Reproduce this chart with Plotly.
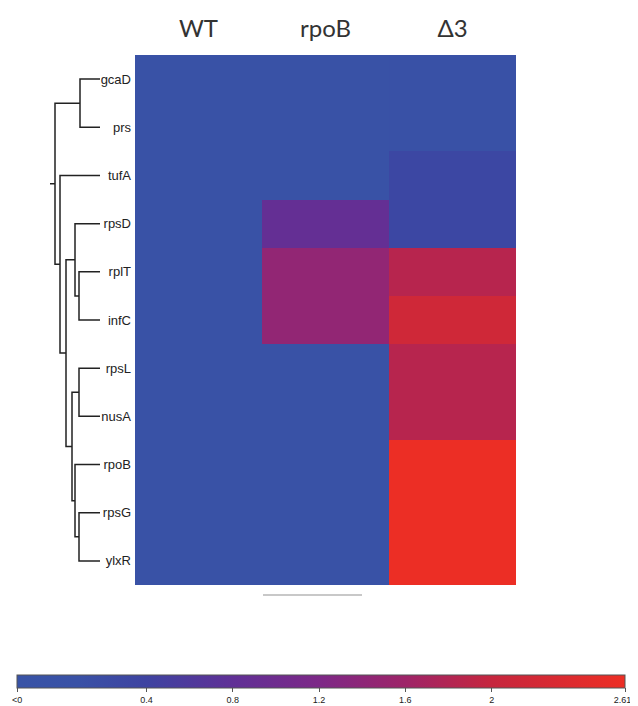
import plotly.graph_objects as go

genes = ["gcaD", "prs", "tufA", "rpsD", "rplT", "infC", "rpsL", "nusA", "rpoB", "rpsG", "ylxR"]
conditions = ["WT", "rpoB", "Δ3"]
wt_values = [0.0, 0.0, 0.0, 0.0, 0.0, 0.0, 0.0, 0.0, 0.0, 0.0, 0.0]
rpob_values = [0.0, 0.0, 0.0, 0.85, 1.45, 1.45, 0.0, 0.0, 0.0, 0.0, 0.0]
d3_values = [0.05, 0.05, 0.3, 0.3, 1.85, 2.15, 1.85, 1.85, 2.6, 2.6, 2.6]

cbar_tickvals = [-0.2, 0.4, 0.8, 1.2, 1.6, 2.0, 2.618]
cbar_ticktext = ["<0", "0.4", "0.8", "1.2", "1.6", "2", "2.618"]

# hierarchical clustering linkage (scipy style): child a, child b, height
linkage = [
    [0, 1, 20],
    [4, 5, 21],
    [6, 7, 21],
    [9, 10, 21],
    [3, 12, 25],
    [8, 14, 25],
    [13, 16, 28],
    [15, 17, 34],
    [2, 18, 40],
    [11, 19, 45],
]
root_stub = 5

# page has an 8px body margin; figure occupies the rest of the window
OFF = 8
W, H = 638 - OFF, 706 - OFF
def px(x):
    return (x - OFF) / W
def py(y):
    return 1 - (y - OFF) / H

z = [[wt_values[i], rpob_values[i], d3_values[i]] for i in range(len(genes))]

colorscale = [
    [0.0, "rgb(56,83,166)"],
    [0.1, "rgb(57,81,166)"],
    [0.213, "rgb(62,67,161)"],
    [0.355, "rgb(96,48,150)"],
    [0.497, "rgb(125,40,135)"],
    [0.639, "rgb(158,36,104)"],
    [0.781, "rgb(198,38,62)"],
    [1.0, "rgb(237,46,36)"],
]

fig = go.Figure()
fig.add_trace(go.Heatmap(
    z=z, x=conditions, y=list(range(len(genes))),
    colorscale=colorscale, zmin=-0.2, zmax=2.618,
    xgap=0, ygap=0,
    colorbar=dict(
        orientation="h", x=px(321), xanchor="center",
        y=py(675), yanchor="top",
        len=608, lenmode="pixels", thickness=13,
        xpad=0, ypad=0,
        outlinecolor="#555", outlinewidth=1,
        tickvals=cbar_tickvals, ticktext=cbar_ticktext,
        ticks="outside", ticklen=4, tickcolor="#555",
        tickfont=dict(size=9, color="#222", family="Arial"),
    ),
    hoverinfo="skip",
))

# dendrogram from linkage
n = len(genes)
pos = {i: (0.0, float(i)) for i in range(n)}
xs, ys = [], []
for k, (a, b, h) in enumerate(linkage):
    ha, ya = pos[a]
    hb, yb = pos[b]
    xs += [ha, h, h, hb, None]
    ys += [ya, ya, yb, yb, None]
    pos[n + k] = (h, (ya + yb) / 2)
rh, ry = pos[n + len(linkage) - 1]
xs += [rh, rh + root_stub, None]
ys += [ry, ry, None]

fig.add_trace(go.Scatter(
    x=xs, y=ys, mode="lines", xaxis="x2", yaxis="y",
    line=dict(color="#222", width=1.5), hoverinfo="skip", showlegend=False,
))

fig.update_layout(
    width=W, height=H,
    margin=dict(l=0, r=0, t=0, b=0),
    paper_bgcolor="white", plot_bgcolor="white",
    xaxis=dict(domain=[px(135), px(516)], side="top", ticks="",
               showgrid=False, zeroline=False, showline=False,
               tickfont=dict(size=24, family="Lato", color="#333"),
               ticklabelstandoff=12),
    yaxis=dict(domain=[py(585), py(55)], range=[n - 0.5, -0.5],
               tickvals=list(range(n)), ticktext=genes, ticks="",
               showgrid=False, zeroline=False, showline=False,
               tickfont=dict(size=13, family="Arial", color="#222"),
               ticklabelstandoff=3),
    xaxis2=dict(domain=[px(45), px(100)], range=[55, 0], anchor="y",
                visible=False, showgrid=False, zeroline=False),
    shapes=[dict(type="line", xref="paper", yref="paper",
                 x0=px(263), x1=px(362), y0=py(595), y1=py(595),
                 line=dict(color="#c8c8c8", width=2))],
)

fig.write_html("out.html")
